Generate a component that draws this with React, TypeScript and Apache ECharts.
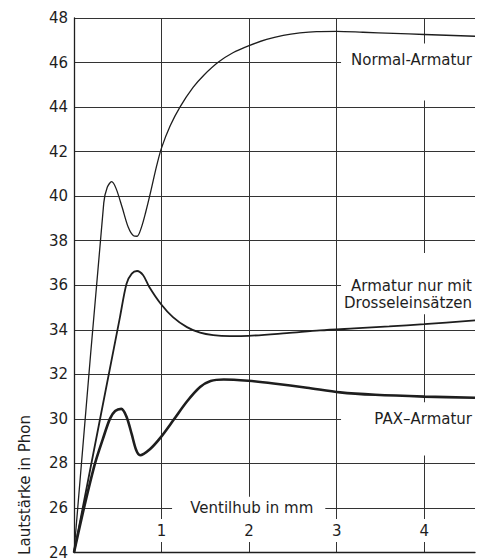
import React, { useEffect, useRef } from "react";
import * as echarts from "echarts";

// Ventilhub (mm) vs Lautstärke (Phon)
const normalArmatur: [number, number][] = [
  [0, 24], [0.34, 39.7], [0.38, 40.4], [0.43, 40.65], [0.48, 40.35], [0.55, 39.5],
  [0.62, 38.6], [0.68, 38.22], [0.72, 38.2], [0.77, 38.6], [0.82, 39.3], [0.87, 40.1],
  [0.945, 41.38], [1.0, 42.17], [1.1, 43.17], [1.21, 44.0], [1.36, 44.88], [1.48, 45.42],
  [1.65, 46.02], [1.82, 46.45], [2.0, 46.76], [2.2, 47.04], [2.39, 47.22], [2.58, 47.33],
  [2.77, 47.39], [3.0, 47.4], [3.3, 47.36], [3.65, 47.31], [4.0, 47.26], [4.58, 47.18],
];

const drosselArmatur: [number, number][] = [
  [0, 24], [0.525, 34.57], [0.6, 36.07], [0.66, 36.52], [0.72, 36.64], [0.79, 36.45],
  [0.86, 35.92], [0.99, 35.17], [1.13, 34.57], [1.29, 34.12], [1.44, 33.87], [1.59, 33.76],
  [1.78, 33.72], [1.99, 33.73], [2.43, 33.85], [2.81, 33.97], [3.2, 34.06], [3.6, 34.15],
  [4.0, 34.25], [4.58, 34.42],
];

const paxArmatur: [number, number][] = [
  [0, 24], [0.12, 26.1], [0.24, 28.0], [0.33, 29.1], [0.41, 30.0], [0.47, 30.35],
  [0.54, 30.45], [0.6, 30.1], [0.66, 29.3], [0.71, 28.6], [0.755, 28.37], [0.87, 28.65],
  [0.99, 29.17], [1.14, 29.97], [1.29, 30.78], [1.44, 31.43], [1.56, 31.7], [1.71, 31.77],
  [1.99, 31.71], [2.28, 31.59], [2.66, 31.4], [3.04, 31.19], [3.44, 31.08], [4.0, 31.0],
  [4.58, 30.95],
];

const xTickLabels = ["1", "2", "3", "4"];
const xTickValues = [1, 2, 3, 4];
const xAxisTitle = "Ventilhub in mm";
const yAxisTitle = "Lautstärke in Phon";
const seriesNames = ["Normal-Armatur", "Armatur nur mit\nDrosseleinsätzen", "PAX–Armatur"];

const INK = "#1e1e1e";
const FONT = "DejaVu Sans";

export default function App() {
  const ref = useRef<HTMLDivElement>(null);
  useEffect(() => {
    const chart = echarts.init(ref.current!, null, { renderer: "svg" });
    chart.setOption({
      animation: false,
      backgroundColor: "#ffffff",
      grid: { left: 74, top: 18, right: 13, bottom: 3, containLabel: false },
      xAxis: {
        type: "value",
        min: 0,
        max: 4.58,
        interval: 1,
        axisLine: { show: true, lineStyle: { color: INK, width: 1.3 } },
        axisTick: { show: false },
        axisLabel: { show: false },
        splitLine: { show: true, showMaxLine: false, lineStyle: { color: "#333", width: 1 } },
      },
      yAxis: {
        type: "value",
        min: 24,
        max: 48,
        interval: 2,
        axisLine: { show: true, lineStyle: { color: INK, width: 1.3 } },
        axisTick: { show: false },
        axisLabel: { color: INK, fontSize: 15, fontFamily: FONT, margin: 6 },
        splitLine: { show: true, lineStyle: { color: "#333", width: 1 } },
      },
      series: [
        {
          name: "Normal-Armatur", type: "line", data: normalArmatur, showSymbol: false,
          smooth: 0.3, lineStyle: { color: INK, width: 1.3 }, z: 3,
        },
        {
          name: "Drossel", type: "line", data: drosselArmatur, showSymbol: false,
          smooth: 0.3, lineStyle: { color: INK, width: 1.8 }, z: 3,
        },
        {
          name: "PAX", type: "line", data: paxArmatur, showSymbol: false,
          smooth: 0.3, lineStyle: { color: INK, width: 2.6 }, z: 3,
        },
      ],
    });

    const px = (x: number, y: number) =>
      chart.convertToPixel({ gridIndex: 0 }, [x, y]) as number[];
    const mask = (x0: number, y0: number, x1: number, y1: number) => {
      const a = px(x0, y0);
      const b = px(x1, y1);
      return {
        type: "rect", z: 50, silent: true,
        shape: {
          x: Math.min(a[0], b[0]), y: Math.min(a[1], b[1]),
          width: Math.abs(b[0] - a[0]), height: Math.abs(b[1] - a[1]),
        },
        style: { fill: "#ffffff" },
      };
    };
    const label = (text: string, x: number, y: number, align: string, extra: any = {}) => ({
      type: "text", z: 60, silent: true, x, y,
      style: {
        text, fill: INK, fontSize: 15, fontFamily: FONT,
        align, verticalAlign: "middle", ...extra,
      },
    });

    const rightEdge = px(4.58, 24)[0] - 3;
    const graphics: any[] = [
      mask(3.05, 44.3, 4.7, 46.85),
      mask(3.05, 34.7, 4.7, 37.45),
      mask(3.05, 28.35, 4.7, 30.75),
      mask(1.12, 24.55, 2.87, 26.5),
      label(seriesNames[0], rightEdge, px(0, 46)[1] - 3, "right"),
      label(seriesNames[1], rightEdge, px(0, 35.6)[1], "right", { lineHeight: 17 }),
      label(seriesNames[2], rightEdge, px(0, 30)[1], "right"),
      label(xAxisTitle, px(2.03, 26)[0], px(0, 26)[1], "center"),
    ];
    xTickValues.forEach((v, i) => {
      const p = px(v, 24);
      graphics.push(
        label(xTickLabels[i], p[0], p[1] - 22, "center", {
          backgroundColor: "#ffffff", padding: [4, 3],
        })
      );
    });
    graphics.push({
      type: "text", z: 60, silent: true, x: 25, y: 485, rotation: Math.PI / 2,
      style: {
        text: yAxisTitle, fill: INK, fontSize: 15, fontFamily: FONT,
        align: "center", verticalAlign: "middle",
      },
    });
    chart.setOption({ graphic: graphics });

    return () => chart.dispose();
  }, []);
  return (
    <div
      ref={ref}
      style={{ position: "absolute", left: 0, top: 0, width: 488, height: 560 }}
    />
  );
}
